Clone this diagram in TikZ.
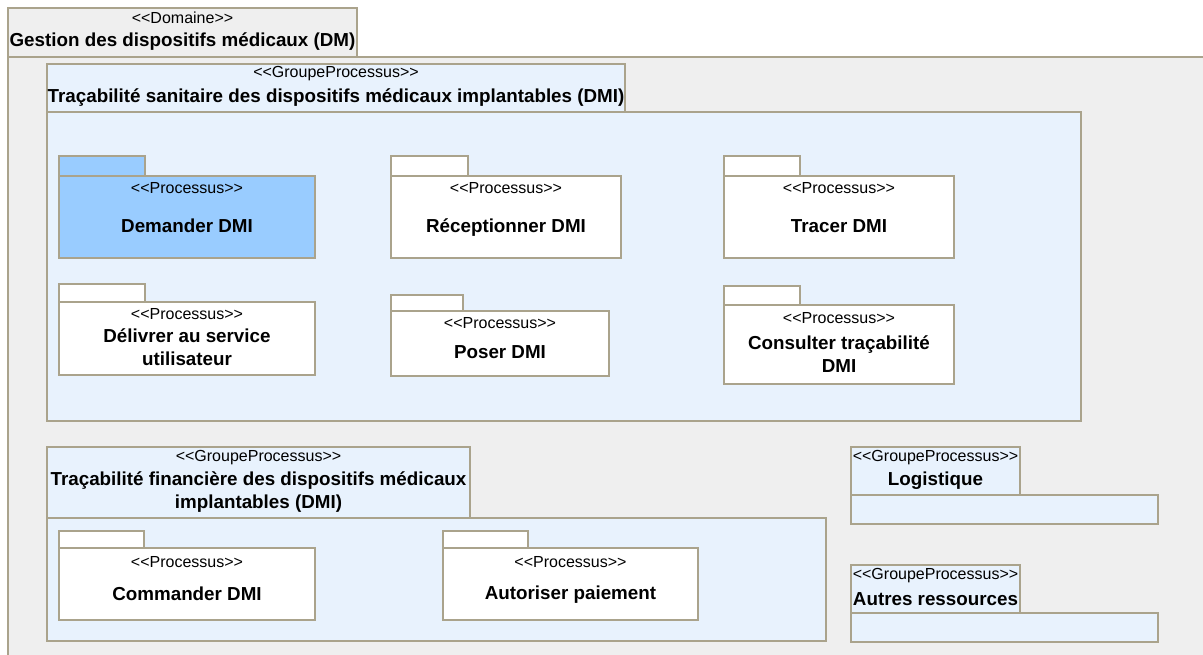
\documentclass[tikz,border=0pt]{standalone}
\usepackage{fontspec}
\setmainfont{Liberation Sans}[Ligatures=TeXOff]
\definecolor{bord}{RGB}{170,163,140}
\definecolor{domfill}{RGB}{239,239,239}
\definecolor{grpfill}{RGB}{232,242,253}
\definecolor{selfill}{RGB}{153,204,255}
\begin{document}
\begin{tikzpicture}[x=1pt,y=-1pt,
  box/.style={draw=bord, line width=1.2pt, anchor=north west, inner sep=0pt, outer sep=0pt, rectangle},
  dom/.style={box, fill=domfill},
  grp/.style={box, fill=grpfill},
  prc/.style={box, fill=white},
  sel/.style={box, fill=selfill},
  st/.style={font=\fontsize{16}{18}\selectfont, inner sep=0pt},
  nm/.style={font=\fontsize{18.8}{23}\selectfont\bfseries, align=center, inner sep=0pt}]
\clip (0,0) rectangle (1203,654);
\fill[white] (0,0) rectangle (1203,654);
% Domain
\node[dom, minimum width=349pt, minimum height=49pt] (domtab) at (8,8) {};
\node[dom, minimum width=1250pt, minimum height=700pt] (dombody) at (8,57) {};
\node[st] (domst) at ([yshift=-10pt]domtab.north) {<<Domaine>>};
\node[nm] (domnm) at ([yshift=-34pt]domtab.north) {Gestion des dispositifs médicaux (DM)};
% Group 1
\node[grp, minimum width=578pt, minimum height=48pt] (g1tab) at (47,64) {};
\node[grp, minimum width=1034pt, minimum height=309pt] (g1body) at (47,112) {};
\node[st] (g1st) at ([yshift=-10pt]g1tab.north) {<<GroupeProcessus>>};
\node[nm] (g1nm) at ([yshift=-34pt]g1tab.north) {Traçabilité sanitaire des dispositifs médicaux implantables (DMI)};
% Demander DMI
\node[sel, minimum width=86pt, minimum height=20pt] (p1tab) at (59,156) {};
\node[sel, minimum width=256pt, minimum height=82pt] (p1) at (59,176) {};
\node[st] (p1st) at ([yshift=-12pt]p1.north) {<<Processus>>};
\node[nm] (p1nm) at ([yshift=-50pt]p1.north) {Demander DMI};
% Receptionner DMI
\node[prc, minimum width=77pt, minimum height=20pt] (p2tab) at (391,156) {};
\node[prc, minimum width=230pt, minimum height=82pt] (p2) at (391,176) {};
\node[st] (p2st) at ([yshift=-12pt]p2.north) {<<Processus>>};
\node[nm] (p2nm) at ([yshift=-52pt]p2.north) {Réceptionner DMI};
% Tracer DMI
\node[prc, minimum width=76pt, minimum height=20pt] (p3tab) at (724,156) {};
\node[prc, minimum width=230pt, minimum height=82pt] (p3) at (724,176) {};
\node[st] (p3st) at ([yshift=-12pt]p3.north) {<<Processus>>};
\node[nm] (p3nm) at ([yshift=-50pt]p3.north) {Tracer DMI};
% Delivrer
\node[prc, minimum width=86pt, minimum height=18pt] (p4tab) at (59,284) {};
\node[prc, minimum width=256pt, minimum height=73pt] (p4) at (59,302) {};
\node[st] (p4st) at ([yshift=-12pt]p4.north) {<<Processus>>};
\node[nm] (p4nm) at ([yshift=-45pt]p4.north) {Délivrer au service\\utilisateur};
% Poser DMI
\node[prc, minimum width=72pt, minimum height=16pt] (p5tab) at (391,295) {};
\node[prc, minimum width=218pt, minimum height=65pt] (p5) at (391,311) {};
\node[st] (p5st) at ([yshift=-12pt]p5.north) {<<Processus>>};
\node[nm] (p5nm) at ([yshift=-41pt]p5.north) {Poser DMI};
% Consulter
\node[prc, minimum width=76pt, minimum height=19pt] (p6tab) at (724,286) {};
\node[prc, minimum width=230pt, minimum height=79pt] (p6) at (724,305) {};
\node[st] (p6st) at ([yshift=-13pt]p6.north) {<<Processus>>};
\node[nm] (p6nm) at ([yshift=-49pt]p6.north) {Consulter traçabilité\\DMI};
% Group 2
\node[grp, minimum width=423pt, minimum height=71pt] (g2tab) at (47,447) {};
\node[grp, minimum width=779pt, minimum height=123pt] (g2body) at (47,518) {};
\node[st] (g2st) at ([yshift=-11pt]g2tab.north) {<<GroupeProcessus>>};
\node[nm] (g2nm) at ([yshift=-45pt]g2tab.north) {Traçabilité financière des dispositifs médicaux\\implantables (DMI)};
% Commander
\node[prc, minimum width=85pt, minimum height=17pt] (p7tab) at (59,531) {};
\node[prc, minimum width=256pt, minimum height=72pt] (p7) at (59,548) {};
\node[st] (p7st) at ([yshift=-14pt]p7.north) {<<Processus>>};
\node[nm] (p7nm) at ([yshift=-46pt]p7.north) {Commander DMI};
% Autoriser
\node[prc, minimum width=85pt, minimum height=17pt] (p8tab) at (443,531) {};
\node[prc, minimum width=255pt, minimum height=72pt] (p8) at (443,548) {};
\node[st] (p8st) at ([yshift=-14pt]p8.north) {<<Processus>>};
\node[nm] (p8nm) at ([yshift=-47pt]p8.north) {Autoriser paiement};
% Logistique
\node[grp, minimum width=169pt, minimum height=48pt] (g3tab) at (851,447) {};
\node[grp, minimum width=307pt, minimum height=29pt] (g3body) at (851,495) {};
\node[st] (g3st) at ([yshift=-11pt]g3tab.north) {<<GroupeProcessus>>};
\node[nm] (g3nm) at ([yshift=-34pt]g3tab.north) {Logistique};
% Autres ressources
\node[grp, minimum width=169pt, minimum height=48pt] (g4tab) at (851,565) {};
\node[grp, minimum width=307pt, minimum height=29pt] (g4body) at (851,613) {};
\node[st] (g4st) at ([yshift=-11pt]g4tab.north) {<<GroupeProcessus>>};
\node[nm] (g4nm) at ([yshift=-34pt]g4tab.north) {Autres ressources};
\end{tikzpicture}
\end{document}
